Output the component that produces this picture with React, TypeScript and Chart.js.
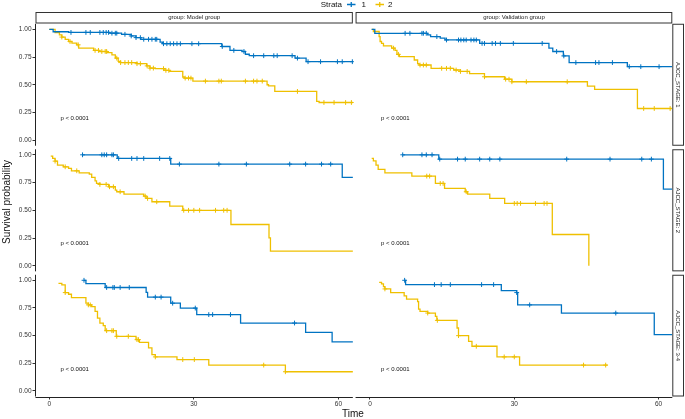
import React, { useEffect, useRef } from 'react';
import { Chart, registerables } from 'chart.js';

Chart.register(...registerables);

// ---------- labels & ticks ----------
const strataLabels = ['1', '2'];
const strataColors = ['#0073C2', '#EFC000'];
const groupLabels = ['group: Model group', 'group: Validation group'];
const stageLabels = ['AJCC_STAGE: 1', 'AJCC_STAGE: 2', 'AJCC_STAGE: 3-4'];
const xTicks = [0, 30, 60];
const yTicks = [0, 0.25, 0.5, 0.75, 1];
const yTickLabels = ['0.00', '0.25', '0.50', '0.75', '1.00'];
const pValueLabel = 'p < 0.0001';
const xTitle = 'Time';
const yTitle = 'Survival probability';
const legendTitle = 'Strata';

// ---------- Model group, AJCC stage 1 ----------
const modelS1Str1Time = [0, 0.8, 4, 12.5, 15, 17, 18, 19, 23, 23.5, 35.8, 37.5, 40, 40.7, 41.5, 51, 53.3, 63];
const modelS1Str1Surv = [1, 0.978, 0.972, 0.965, 0.955, 0.94, 0.925, 0.91, 0.885, 0.87, 0.845, 0.81, 0.8, 0.775, 0.762, 0.74, 0.708, 0.708];
const modelS1Str1Cens = [4.5, 7.6, 8.5, 10.5, 11.2, 11.8, 12.3, 13, 13.7, 14, 15.7, 17, 18, 18.9, 19.6, 20.6, 21.3, 22, 22.3, 23.7, 24.4, 25.1, 25.8, 26.5, 27.2, 29.6, 31, 35.9, 38.3, 40.4, 42.4, 44.5, 46.6, 47.3, 50.4, 51.5, 53.7, 56.3, 59.8, 60.8, 62.9];
const modelS1Str2Time = [0, 1.2, 2.1, 2.6, 3.3, 4, 4.7, 5.7, 6.1, 9.2, 10.3, 12, 13, 13.7, 14.3, 14.8, 18.2, 20.2, 20.9, 22, 24, 25, 27.7, 28, 29.8, 45.2, 45.5, 46.8, 55.5, 56, 63];
const modelS1Str2Surv = [1, 0.97, 0.95, 0.93, 0.91, 0.89, 0.875, 0.86, 0.83, 0.81, 0.8, 0.79, 0.77, 0.74, 0.71, 0.7, 0.69, 0.67, 0.65, 0.645, 0.63, 0.62, 0.57, 0.56, 0.533, 0.5, 0.49, 0.44, 0.35, 0.34, 0.34];
const modelS1Str2Cens = [2.6, 4.3, 6, 9.5, 10.2, 10.9, 11.6, 11.9, 14, 14.8, 15.7, 16.4, 17.1, 18.2, 18.9, 20.3, 20.9, 21.6, 23.7, 24.2, 24.8, 28.2, 28.9, 29.4, 32.4, 35.2, 35.7, 40.7, 42.4, 43.1, 44.2, 51.5, 57, 59.1, 61.5, 62.7];

// ---------- Validation group, AJCC stage 1 ----------
const validS1Str1Time = [0.35, 1.0, 12, 12.6, 14.6, 15.6, 22.8, 37.2, 38, 40.2, 41.4, 53.5, 62.8];
const validS1Str1Surv = [1, 0.964, 0.95, 0.934, 0.92, 0.904, 0.873, 0.83, 0.8, 0.76, 0.7, 0.663, 0.663];
const validS1Str1Cens = [7.3, 8.3, 10.8, 11.1, 11.7, 13.9, 15.9, 18.4, 18.9, 19.5, 20, 21, 21.6, 22.1, 23.3, 23.8, 25.4, 26.1, 27.1, 29.8, 35.8, 38.8, 40.3, 42.8, 46.9, 47.6, 50.4, 53.9, 56.3, 60.1];
const validS1Str2Time = [0.35, 0.7, 1.9, 2.1, 2.4, 2.8, 4.5, 5.2, 5.6, 6.1, 9.2, 9.9, 10.2, 12.7, 17.4, 18.8, 20.7, 23.8, 28, 29.5, 45.2, 46.7, 55.6, 62.8];
const validS1Str2Surv = [1, 0.98, 0.934, 0.89, 0.873, 0.85, 0.83, 0.81, 0.774, 0.753, 0.723, 0.69, 0.678, 0.648, 0.633, 0.62, 0.6, 0.572, 0.55, 0.527, 0.488, 0.458, 0.286, 0.286];
const validS1Str2Cens = [4.9, 5.9, 10.4, 11.1, 11.7, 14.9, 15.9, 16.7, 17.9, 18.8, 20.2, 23.8, 28.2, 28.9, 29.5, 32.5, 41, 56.9, 59.1, 62.4];

// ---------- Model group, AJCC stage 2 ----------
const modelS2Str1Time = [6.9, 14.1, 25.2, 60.8, 63];
const modelS2Str1Surv = [1, 0.967, 0.916, 0.796, 0.796];
const modelS2Str1Cens = [6.9, 10.9, 11.4, 11.9, 13, 13.3, 14.4, 17.1, 18.2, 19.6, 22.9, 25, 27, 35.2, 40.9, 49.9, 53.2, 56.5, 58.4];
const modelS2Str2Time = [0.3, 0.7, 1.2, 1.7, 2.9, 4, 4.6, 6.2, 8.3, 8.8, 9.5, 9.8, 10.5, 12.3, 13.7, 14, 15.5, 19.6, 20.1, 21.3, 25, 27.7, 37.7, 45.6, 45.9, 63];
const modelS2Str2Surv = [0.988, 0.967, 0.943, 0.907, 0.892, 0.877, 0.856, 0.838, 0.826, 0.796, 0.766, 0.742, 0.733, 0.712, 0.682, 0.667, 0.646, 0.628, 0.607, 0.577, 0.538, 0.5, 0.372, 0.252, 0.132, 0.132];
const modelS2Str2Cens = [1.2, 3.3, 5.7, 10.5, 11.8, 12.5, 13.3, 14.7, 19.9, 20.4, 22.3, 27.9, 28.9, 30, 31.2, 34.5, 36.2, 36.9];

// ---------- Validation group, AJCC stage 2 ----------
const validS2Str1Time = [6.8, 14.3, 61, 62.8];
const validS2Str1Surv = [1, 0.961, 0.69, 0.69];
const validS2Str1Cens = [6.8, 10.8, 11.7, 12.9, 14.5, 18.2, 19.8, 22.8, 24.9, 27, 40.9, 49.9, 56.5, 58.5];
const validS2Str2Time = [0.35, 0.7, 1.25, 1.7, 3.1, 8.7, 13.6, 15.5, 19.8, 20.3, 24.9, 28, 37.9, 45.5];
const validS2Str2Surv = [0.967, 0.946, 0.907, 0.868, 0.838, 0.808, 0.742, 0.697, 0.667, 0.646, 0.607, 0.562, 0.282, 0.0];
const validS2Str2Cens = [11.8, 12.4, 14.6, 15.2, 20, 30, 30.6, 31.3, 34.4, 36.2, 36.8];

// ---------- Model group, AJCC stage 3-4 ----------
const modelS3Str1Time = [7.2, 7.6, 11.6, 20.1, 20.4, 25.2, 27.2, 30.6, 39.7, 53.2, 58.7, 63];
const modelS3Str1Surv = [1, 0.97, 0.935, 0.89, 0.848, 0.793, 0.749, 0.69, 0.614, 0.53, 0.443, 0.443];
const modelS3Str1Cens = [7.2, 11.9, 13.2, 13.5, 14.7, 16.6, 22, 23.2, 25.6, 30.3, 33.1, 33.9, 37.6, 50.9];
const modelS3Str2Time = [1.9, 2.6, 3.3, 4, 4.6, 7.6, 8.1, 8.8, 9.5, 10, 10.5, 11.2, 11.6, 13.9, 18, 18.7, 20.6, 21.3, 22, 26.5, 33.1, 49, 63];
const modelS3Str2Surv = [0.973, 0.958, 0.889, 0.874, 0.844, 0.793, 0.778, 0.763, 0.719, 0.659, 0.614, 0.59, 0.545, 0.494, 0.464, 0.44, 0.389, 0.329, 0.308, 0.284, 0.234, 0.174, 0.174];
const modelS3Str2Cens = [3.3, 8.1, 8.5, 11.9, 13, 13.3, 14, 16.4, 18.2, 18.5, 22, 27.7, 30.1, 44.5, 49];

// ---------- Validation group, AJCC stage 3-4 ----------
const validS3Str1Time = [7.2, 7.4, 27.3, 30.5, 30.7, 39.8, 59.1, 62.8];
const validS3Str1Surv = [1, 0.961, 0.907, 0.889, 0.778, 0.704, 0.509, 0.509];
const validS3Str1Cens = [7.2, 13.4, 14.8, 16.7, 23.2, 25.7, 30.5, 33.2, 51.1];
const validS3Str2Time = [1.9, 2.4, 2.8, 3.1, 4.3, 7.1, 7.6, 9.9, 10.1, 10.4, 12, 13.6, 13.9, 18.1, 18.4, 20.5, 21.2, 26.4, 31.1, 49.4];
const validS3Str2Surv = [0.982, 0.967, 0.943, 0.922, 0.889, 0.859, 0.829, 0.808, 0.74, 0.719, 0.704, 0.674, 0.638, 0.569, 0.5, 0.449, 0.404, 0.308, 0.234, 0.234];
const validS3Str2Cens = [3.1, 12, 14, 18.4, 22.1, 27.9, 30, 44.4, 49];

// ---------- panel table (built from arrays above) ----------
const panels = [
  { row: 0, col: 0, curves: [[modelS1Str1Time, modelS1Str1Surv, modelS1Str1Cens], [modelS1Str2Time, modelS1Str2Surv, modelS1Str2Cens]] },
  { row: 0, col: 1, curves: [[validS1Str1Time, validS1Str1Surv, validS1Str1Cens], [validS1Str2Time, validS1Str2Surv, validS1Str2Cens]] },
  { row: 1, col: 0, curves: [[modelS2Str1Time, modelS2Str1Surv, modelS2Str1Cens], [modelS2Str2Time, modelS2Str2Surv, modelS2Str2Cens]] },
  { row: 1, col: 1, curves: [[validS2Str1Time, validS2Str1Surv, validS2Str1Cens], [validS2Str2Time, validS2Str2Surv, validS2Str2Cens]] },
  { row: 2, col: 0, curves: [[modelS3Str1Time, modelS3Str1Surv, modelS3Str1Cens], [modelS3Str2Time, modelS3Str2Surv, modelS3Str2Cens]] },
  { row: 2, col: 1, curves: [[validS3Str1Time, validS3Str1Surv, validS3Str1Cens], [validS3Str2Time, validS3Str2Surv, validS3Str2Cens]] },
];

const FONT = '"Liberation Sans", Arial, Helvetica, sans-serif';

function survAt(times: number[], surv: number[], t: number): number {
  let v = surv[0];
  for (let i = 0; i < times.length; i++) {
    if (times[i] <= t + 1e-9) v = surv[i];
    else break;
  }
  return v;
}

const xRanges = [
  [-2.864, 63.22],
  [-3.347, 62.85],
];
const yRanges = [
  [-0.0706, 1.0496],
  [-0.0583, 1.061],
  [-0.0497, 1.0725],
];

const decorPlugin = {
  id: 'decor',
  afterDraw(chart: any) {
    const ctx = chart.ctx as CanvasRenderingContext2D;
    const area = chart.chartArea;
    const xs = [chart.scales.x0, chart.scales.x1];
    const ys = [chart.scales.y0, chart.scales.y1, chart.scales.y2];
    const colL = xs.map((s: any) => s.getPixelForValue(-3));
    const colR = xs.map((s: any) => Math.min(s.getPixelForValue(63), area.right));
    colL[0] = area.left;
    const rowT = ys.map((s: any) => s.getPixelForValue(1.05));
    const rowB = ys.map((s: any) => s.getPixelForValue(-0.05));
    rowB[2] = area.bottom;

    ctx.save();
    // axis lines
    ctx.strokeStyle = '#222';
    ctx.lineWidth = 1;
    for (let r = 0; r < 3; r++) {
      ctx.beginPath();
      ctx.moveTo(Math.round(area.left) - 0.5, rowT[r]);
      ctx.lineTo(Math.round(area.left) - 0.5, rowB[r]);
      ctx.stroke();
    }
    for (let c = 0; c < 2; c++) {
      ctx.beginPath();
      ctx.moveTo(colL[c], Math.round(area.bottom) + 0.5);
      ctx.lineTo(colR[c], Math.round(area.bottom) + 0.5);
      ctx.stroke();
    }

    // top strips
    ctx.font = `6px ${FONT}`;
    ctx.textAlign = 'center';
    ctx.textBaseline = 'middle';
    for (let c = 0; c < 2; c++) {
      const x0 = colL[c];
      const w = colR[c] - x0;
      ctx.fillStyle = '#ffffff';
      ctx.fillRect(x0, 12, w, 11.5);
      ctx.strokeStyle = '#333';
      ctx.lineWidth = 1;
      ctx.strokeRect(x0 + 0.5, 12.5, w - 1, 10.5);
      ctx.fillStyle = '#1a1a1a';
      ctx.fillText(groupLabels[c], x0 + w / 2, 17.8);
    }
    // right strips
    for (let r = 0; r < 3; r++) {
      const y0 = rowT[r];
      const h = rowB[r] - y0;
      const x0 = area.right;
      const w = 684 - x0;
      ctx.fillStyle = '#ffffff';
      ctx.fillRect(x0, y0, w, h);
      ctx.strokeStyle = '#333';
      ctx.strokeRect(x0 + 0.5, y0 + 0.5, w - 1, h - 1);
      ctx.save();
      ctx.translate(x0 + w / 2, y0 + h / 2);
      ctx.rotate(Math.PI / 2);
      ctx.fillStyle = '#1a1a1a';
      ctx.fillText(stageLabels[r], 0, 0);
      ctx.restore();
    }

    // p-values
    ctx.font = `6px ${FONT}`;
    ctx.textAlign = 'left';
    ctx.fillStyle = '#111';
    for (const p of panels) {
      const px = xs[p.col].getPixelForValue(2.3);
      const py = ys[p.row].getPixelForValue(0.2);
      ctx.fillText(pValueLabel, px, py);
    }

    // axis titles
    ctx.font = `10px ${FONT}`;
    ctx.fillStyle = '#111';
    ctx.textAlign = 'center';
    ctx.fillText(xTitle, 353, 414.3);
    ctx.save();
    ctx.translate(7, 202);
    ctx.rotate(-Math.PI / 2);
    ctx.fillText(yTitle, 0, 0);
    ctx.restore();

    // legend
    ctx.font = `8px ${FONT}`;
    ctx.textAlign = 'left';
    ctx.fillStyle = '#111';
    ctx.fillText(legendTitle, 320.7, 4.5);
    const keyX = [347, 375.5];
    const labX = [361.5, 388];
    for (let s = 0; s < 2; s++) {
      ctx.strokeStyle = strataColors[s];
      ctx.lineWidth = 1.3;
      ctx.beginPath();
      ctx.moveTo(keyX[s], 4.5);
      ctx.lineTo(keyX[s] + 8.5, 4.5);
      ctx.moveTo(keyX[s] + 4.25, 2);
      ctx.lineTo(keyX[s] + 4.25, 7);
      ctx.stroke();
      ctx.fillStyle = '#111';
      ctx.fillText(strataLabels[s], labX[s], 4.5);
    }
    ctx.restore();
  },
};

export default function App() {
  const ref = useRef<HTMLCanvasElement | null>(null);

  useEffect(() => {
    if (!ref.current) return;
    const datasets: any[] = [];
    for (const p of panels) {
      p.curves.forEach((cv, s) => {
        const [times, surv, cens] = cv as number[][];
        datasets.push({
          type: 'line',
          data: times.map((t, i) => ({ x: t, y: surv[i] })),
          xAxisID: `x${p.col}`,
          yAxisID: `y${p.row}`,
          borderColor: strataColors[s],
          borderWidth: 1.3,
          pointRadius: 0,
          stepped: 'before',
          fill: false,
          tension: 0,
        });
        datasets.push({
          type: 'line',
          data: cens.map((t) => ({ x: t, y: survAt(times, surv, t) })),
          xAxisID: `x${p.col}`,
          yAxisID: `y${p.row}`,
          showLine: false,
          borderColor: strataColors[s],
          backgroundColor: strataColors[s],
          pointStyle: 'cross',
          pointRadius: 2.4,
          pointBorderWidth: 1,
          borderWidth: 1,
        });
      });
    }

    const tickFont = { family: FONT, size: 6.5 };
    const scales: any = {};
    xRanges.forEach((rg, c) => {
      scales[`x${c}`] = {
        type: 'linear',
        axis: 'x',
        position: 'bottom',
        stack: 'cols',
        stackWeight: 1,
        weight: c + 1,
        min: rg[0],
        max: rg[1],
        afterBuildTicks: (sc: any) => {
          sc.ticks = xTicks.map((v) => ({ value: v }));
        },
        afterFit: (sc: any) => {
          sc.height = 14;
        },
        ticks: { font: tickFont, color: '#333', padding: 1, maxRotation: 0, autoSkip: false, callback: (v: any) => String(v) },
        grid: { display: true, drawOnChartArea: false, drawTicks: true, tickLength: 3, color: '#333', lineWidth: 1 },
        border: { display: false },
      };
    });
    yRanges.forEach((rg, r) => {
      scales[`y${r}`] = {
        type: 'linear',
        axis: 'y',
        position: 'left',
        stack: 'rows',
        stackWeight: 1,
        weight: 3 - r,
        min: rg[0],
        max: rg[1],
        afterBuildTicks: (sc: any) => {
          sc.ticks = yTicks.map((v) => ({ value: v }));
        },
        afterFit: (sc: any) => {
          sc.width = 30;
        },
        ticks: {
          font: tickFont,
          color: '#333',
          padding: 1,
          autoSkip: false,
          callback: (v: any) => {
            const i = yTicks.findIndex((t) => Math.abs(t - v) < 1e-9);
            return i >= 0 ? yTickLabels[i] : '';
          },
        },
        grid: { display: true, drawOnChartArea: false, drawTicks: true, tickLength: 3, color: '#333', lineWidth: 1 },
        border: { display: false },
      };
    });

    const chart = new Chart(ref.current, {
      type: 'line',
      data: { datasets },
      options: {
        animation: false,
        responsive: false,
        maintainAspectRatio: false,
        events: [],
        layout: { padding: { left: 5.5, top: 23.8, right: 12.7, bottom: 8.5 } },
        plugins: { legend: { display: false }, tooltip: { enabled: false }, title: { display: false } },
        scales,
      } as any,
      plugins: [decorPlugin as any],
    });
    return () => chart.destroy();
  }, []);

  return (
    <div style={{ position: 'fixed', left: 0, top: 0, width: 685, height: 419, background: '#fff' }}>
      <canvas ref={ref} width={685} height={419} style={{ width: 685, height: 419, display: 'block' }} />
    </div>
  );
}
